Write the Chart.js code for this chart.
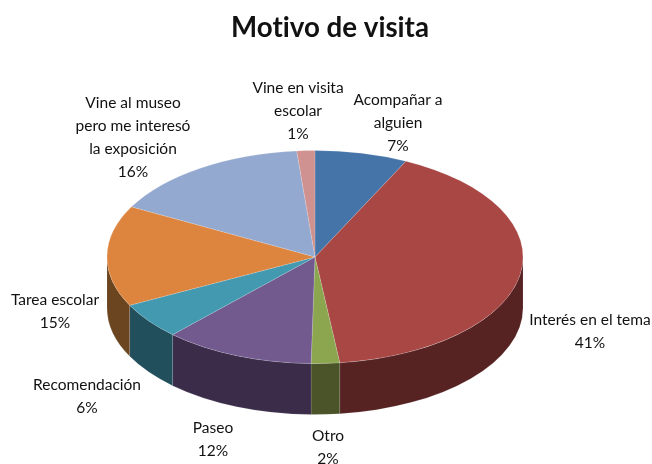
<!DOCTYPE html>
<html><head><meta charset="utf-8">
<style>html,body{margin:0;padding:0;background:#fff}#w{width:652px;height:464px}</style>
<script src="https://cdn.jsdelivr.net/npm/chart.js@4"></script>
</head><body><div id="w"><canvas id="c"></canvas></div>
<script>
const categories = ["Acompañar a alguien","Interés en el tema","Otro","Paseo","Recomendación","Tarea escolar","Vine al museo pero me interesó la exposición","Vine en visita escolar"];
const values = [7.2,40.9,2.2,11.7,5.5,15.3,15.8,1.4];
const percentLabels = ["7%","41%","2%","12%","6%","15%","16%","1%"];
const topColors = ["#4574a8","#a94745","#8ba64f","#725a8f","#4299b0","#dd843e","#93a9cf","#d09290"];
const wallColors = ["#2a4565","#562222","#4a5428","#3b2c4a","#214f5c","#6a4520","#58657c","#7d5756"];
const labelLines = [["Acompañar a","alguien"],["Interés en el tema"],["Otro"],["Paseo"],["Recomendación"],["Tarea escolar"],["Vine al museo","pero me interesó","la exposición"],["Vine en visita","escolar"]];
const title = "Motivo de visita";

// view settings of the tilted pie
const view = {cx:315, cy:257, rx:208, ry:106.5, depth:51};
const labelAnchors = [[398,100],[590,320],[328,436],[213,428],[87,385],[55,300],[133,103],[298,88]];
const lineGap = 23;

const tilt = {
  id:'tilt',
  beforeDraw(chart){ chart.ctx.textRendering = 'optimizeSpeed'; },
  beforeDatasetsDraw(chart){
    const arcs = chart.getDatasetMeta(0).data, ctx = chart.ctx, a0 = arcs[0];
    const sx = view.rx/a0.outerRadius, sy = view.ry/a0.outerRadius;
    ctx.save();
    ctx.translate(view.cx, view.cy);
    ctx.scale(sx, sy);
    ctx.translate(-a0.x, -a0.y);
    const d = view.depth/sy;
    arcs.forEach((arc,i)=>{
      const s = Math.max(arc.startAngle,0), e = Math.min(arc.endAngle,Math.PI);
      if (e <= s) return;
      ctx.beginPath();
      ctx.arc(arc.x,arc.y,arc.outerRadius,s,e);
      ctx.arc(arc.x,arc.y+d,arc.outerRadius,e,s,true);
      ctx.closePath();
      ctx.fillStyle = wallColors[i];
      ctx.fill();
      ctx.strokeStyle = 'rgba(255,255,255,0.35)';
      ctx.lineWidth = 0.4;
      ctx.stroke();
    });
  },
  afterDatasetsDraw(chart){
    const ctx = chart.ctx;
    ctx.restore();
    ctx.save();
    ctx.fillStyle = '#111';
    ctx.font = '15.5px Lato';
    ctx.textAlign = 'center';
    ctx.textBaseline = 'middle';
    labelLines.forEach((lines,i)=>{
      const [x,y] = labelAnchors[i];
      lines.concat(percentLabels[i]).forEach((t,k)=>ctx.fillText(t,x,y+k*lineGap));
    });
    ctx.restore();
  }
};

new Chart(document.getElementById('c'),{
  type:'pie',
  data:{labels:categories,datasets:[{data:values,backgroundColor:topColors,borderColor:'rgba(255,255,255,0.4)',borderWidth:0.5,clip:false}]},
  plugins:[tilt],
  options:{
    responsive:true,maintainAspectRatio:false,animation:false,
    layout:{padding:{left:8}},
    plugins:{
      legend:{display:false},tooltip:{enabled:false},
      title:{display:true,text:title,color:'#111',font:{family:'Lato',size:27.7,weight:'bold'},padding:{top:11,bottom:10}}
    }
  }
});
</script></body></html>
